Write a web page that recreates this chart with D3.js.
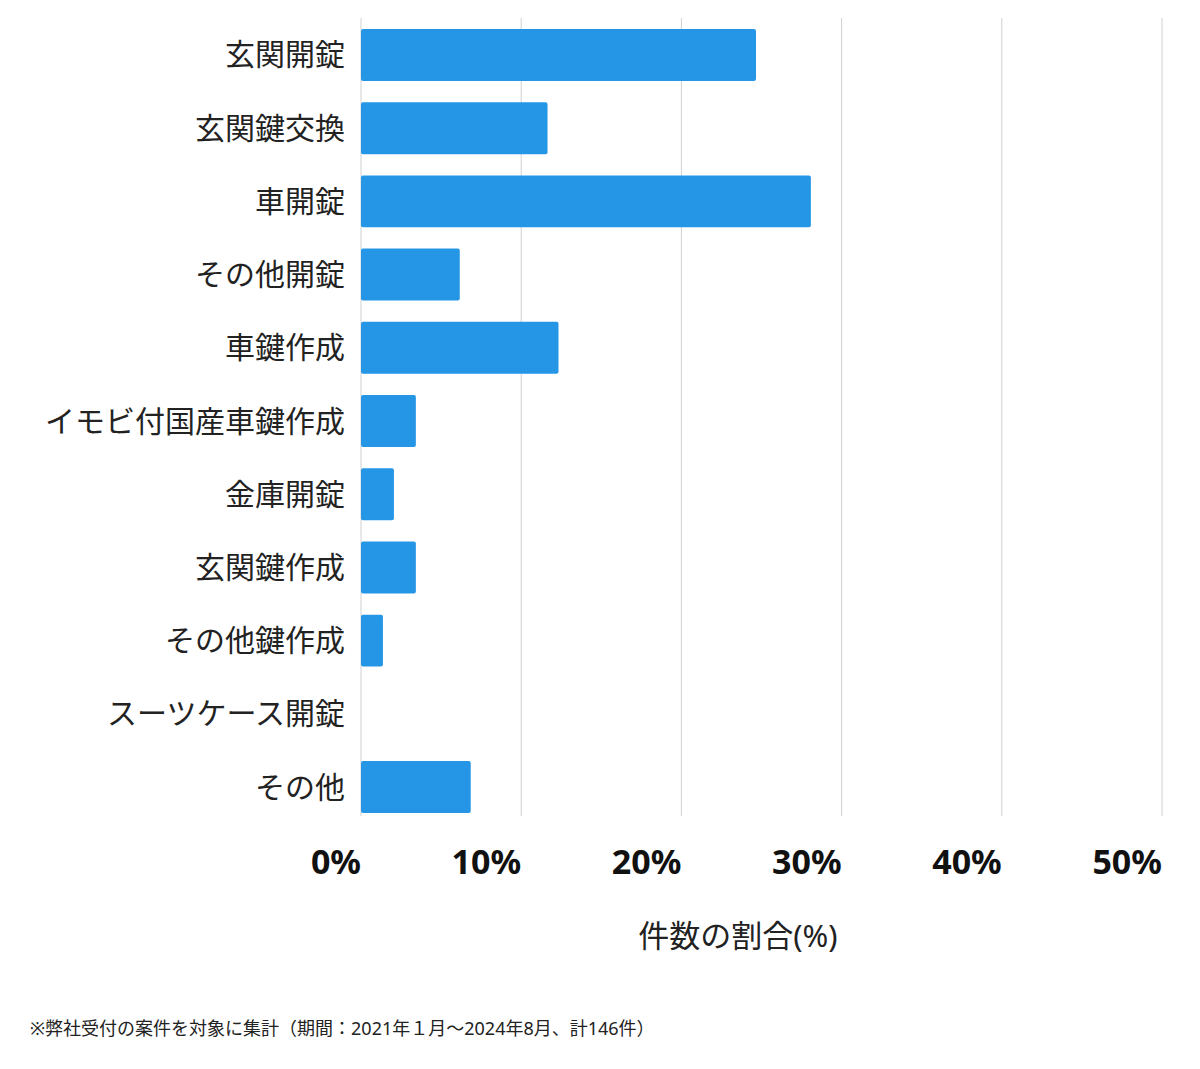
<!DOCTYPE html>
<html>
<head>
<meta charset="utf-8">
<script src="https://cdn.jsdelivr.net/npm/d3@7"></script>
<style>
  body { margin: 0; background: #fff; }
  text { font-family: "Noto Sans", "Noto Sans CJK JP", sans-serif; }
</style>
</head>
<body>
<svg id="chart" width="1200" height="1069"></svg>
<script>
// data: share of cases (count / 146)
var categories = ["玄関開錠", "玄関鍵交換", "車開錠", "その他開錠", "車鍵作成", "イモビ付国産車鍵作成",
                  "金庫開錠", "玄関鍵作成", "その他鍵作成", "スーツケース開錠", "その他"];
var counts = [36, 17, 41, 9, 18, 5, 3, 5, 2, 0, 10];
var total = 146;
var tickValues = [0, 10, 20, 30, 40, 50];

var svg = d3.select("#chart");
var plotLeft = 361, plotRight = 1162, plotTop = 18, plotBottom = 824;

var x = d3.scaleLinear().domain([0, 50]).range([plotLeft, plotRight]);
var y = d3.scaleBand().domain(categories).range([plotTop, plotBottom]).paddingInner(0.29).paddingOuter(0.15);

// gridlines
svg.append("g").selectAll("line")
  .data(tickValues)
  .enter().append("line")
  .attr("x1", d => x(d)).attr("x2", d => x(d))
  .attr("y1", plotTop).attr("y2", 816)
  .attr("stroke", "#d0d0d0").attr("stroke-width", 1);

// bars
svg.append("g").selectAll("rect")
  .data(categories)
  .enter().append("rect")
  .attr("x", x(0))
  .attr("y", d => y(d))
  .attr("height", y.bandwidth())
  .attr("width", (d, i) => x(counts[i] / total * 100) - x(0))
  .attr("rx", 2)
  .attr("fill", "#2596e6");

// category labels
svg.append("g").selectAll("text")
  .data(categories)
  .enter().append("text")
  .attr("x", 345)
  .attr("y", d => y(d) + y.bandwidth() / 2)
  .attr("dy", "0.35em")
  .attr("text-anchor", "end")
  .attr("font-size", 30)
  .attr("fill", "#222")
  .text(d => d);

// tick labels
svg.append("g").selectAll("text")
  .data(tickValues)
  .enter().append("text")
  .attr("x", d => x(d))
  .attr("y", 874)
  .attr("text-anchor", "end")
  .attr("font-size", 34)
  .attr("font-weight", "bold")
  .attr("fill", "#111")
  .text(d => d + "%");

// axis title
svg.append("text")
  .attr("x", 738).attr("y", 947)
  .attr("text-anchor", "middle")
  .attr("font-size", 31)
  .attr("fill", "#222")
  .text("件数の割合(%)");

// footnote
svg.append("text")
  .attr("x", 30).attr("y", 1035)
  .attr("font-size", 18)
  .attr("fill", "#222")
  .text("※弊社受付の案件を対象に集計（期間：2021年１月〜2024年8月、計146件）");
</script>
</body>
</html>
